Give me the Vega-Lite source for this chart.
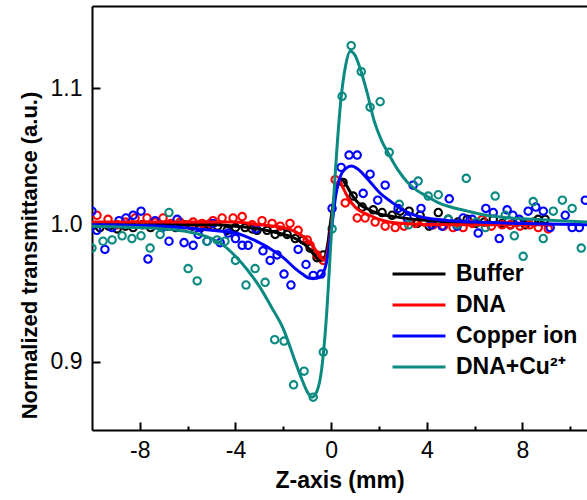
{
  "$schema": "https://vega.github.io/schema/vega-lite/v6.json",
  "width": 495,
  "height": 424,
  "autosize": "none",
  "padding": {"left": 92, "top": 6, "right": 0, "bottom": 70},
  "config": {
    "view": {"stroke": null},
    "font": "Liberation Sans",
    "axis": {"domainColor": "#000", "domainWidth": 2, "tickColor": "#000", "tickWidth": 2, "labelColor": "#000", "titleColor": "#000", "grid": false},
    "legend": {"orient": "none", "legendX": 299, "legendY": 256, "title": null, "symbolType": "stroke", "symbolSize": 2800, "symbolStrokeWidth": 3,
      "clipHeight": 24, "labelFontSize": 23, "labelFontWeight": "bold", "labelColor": "#000", "labelOffset": 9, "rowPadding": 7, "labelLimit": 300}
  },
  "datasets": {
    "pts": [
      {"s": "Buffer", "z": -10, "t": 0.999}, {"s": "Buffer", "z": -9.67, "t": 0.998}, {"s": "Buffer", "z": -9.3, "t": 0.999}, {"s": "Buffer", "z": -8.95, "t": 0.997}, {"s": "Buffer", "z": -8.6, "t": 0.999}, {"s": "Buffer", "z": -8.28, "t": 0.998}, {"s": "Buffer", "z": -7.9, "t": 1.0}, {"s": "Buffer", "z": -7.55, "t": 0.998}, {"s": "Buffer", "z": -7.2, "t": 1.0}, {"s": "Buffer", "z": -6.85, "t": 0.999}, {"s": "Buffer", "z": -6.5, "t": 0.998}, {"s": "Buffer", "z": -6.15, "t": 1.0}, {"s": "Buffer", "z": -5.8, "t": 0.999}, {"s": "Buffer", "z": -5.45, "t": 0.998}, {"s": "Buffer", "z": -5.1, "t": 1.0}, {"s": "Buffer", "z": -4.75, "t": 0.999}, {"s": "Buffer", "z": -4.35, "t": 0.996}, {"s": "Buffer", "z": -4.0, "t": 0.998}, {"s": "Buffer", "z": -3.6, "t": 0.998}, {"s": "Buffer", "z": -3.3, "t": 0.997}, {"s": "Buffer", "z": -3.1, "t": 0.996}, {"s": "Buffer", "z": -2.68, "t": 0.996}, {"s": "Buffer", "z": -2.34, "t": 0.993}, {"s": "Buffer", "z": -2.1, "t": 0.995}, {"s": "Buffer", "z": -1.84, "t": 0.993}, {"s": "Buffer", "z": -1.5, "t": 0.99}, {"s": "Buffer", "z": -1.17, "t": 0.989}, {"s": "Buffer", "z": -0.88, "t": 0.983}, {"s": "Buffer", "z": -0.59, "t": 0.976}, {"s": "Buffer", "z": -0.33, "t": 0.978}, {"s": "Buffer", "z": 0.5, "t": 1.031}, {"s": "Buffer", "z": 0.92, "t": 1.021}, {"s": "Buffer", "z": 1.3, "t": 1.013}, {"s": "Buffer", "z": 1.76, "t": 1.011}, {"s": "Buffer", "z": 2.13, "t": 1.009}, {"s": "Buffer", "z": 2.55, "t": 1.007}, {"s": "Buffer", "z": 2.89, "t": 1.01}, {"s": "Buffer", "z": 3.26, "t": 1.01}, {"s": "Buffer", "z": 3.6, "t": 1.001}, {"s": "Buffer", "z": 3.72, "t": 1.007}, {"s": "Buffer", "z": 4.1, "t": 0.999}, {"s": "Buffer", "z": 4.48, "t": 1.009}, {"s": "Buffer", "z": 4.9, "t": 1.004}, {"s": "Buffer", "z": 5.3, "t": 1.002}, {"s": "Buffer", "z": 5.69, "t": 1.004}, {"s": "Buffer", "z": 6.05, "t": 1.001}, {"s": "Buffer", "z": 6.4, "t": 1.002}, {"s": "Buffer", "z": 6.78, "t": 1.004}, {"s": "Buffer", "z": 7.15, "t": 1.001}, {"s": "Buffer", "z": 7.5, "t": 1.0}, {"s": "Buffer", "z": 7.8, "t": 1.002}, {"s": "Buffer", "z": 8.12, "t": 1.0}, {"s": "Buffer", "z": 8.5, "t": 1.002}, {"s": "Buffer", "z": 8.66, "t": 1.004}, {"s": "Buffer", "z": 8.95, "t": 1.004},
      {"s": "DNA", "z": -9.79, "t": 1.007}, {"s": "DNA", "z": -9.33, "t": 1.004}, {"s": "DNA", "z": -8.95, "t": 1.0}, {"s": "DNA", "z": -8.6, "t": 1.002}, {"s": "DNA", "z": -8.2, "t": 1.005}, {"s": "DNA", "z": -7.7, "t": 1.005}, {"s": "DNA", "z": -7.36, "t": 1.002}, {"s": "DNA", "z": -7.03, "t": 1.005}, {"s": "DNA", "z": -6.7, "t": 1.001}, {"s": "DNA", "z": -6.32, "t": 1.002}, {"s": "DNA", "z": -5.95, "t": 1.0}, {"s": "DNA", "z": -5.77, "t": 1.002}, {"s": "DNA", "z": -5.4, "t": 1.001}, {"s": "DNA", "z": -5.06, "t": 1.001}, {"s": "DNA", "z": -4.94, "t": 1.003}, {"s": "DNA", "z": -4.56, "t": 1.005}, {"s": "DNA", "z": -4.1, "t": 1.005}, {"s": "DNA", "z": -3.72, "t": 1.006}, {"s": "DNA", "z": -3.3, "t": 1.0}, {"s": "DNA", "z": -2.89, "t": 1.003}, {"s": "DNA", "z": -2.47, "t": 1.001}, {"s": "DNA", "z": -2.13, "t": 0.999}, {"s": "DNA", "z": -1.72, "t": 1.001}, {"s": "DNA", "z": -1.38, "t": 0.996}, {"s": "DNA", "z": -1.0, "t": 0.989}, {"s": "DNA", "z": -0.88, "t": 0.985}, {"s": "DNA", "z": -0.59, "t": 0.978}, {"s": "DNA", "z": -0.33, "t": 0.974}, {"s": "DNA", "z": 0.17, "t": 1.033}, {"s": "DNA", "z": 0.59, "t": 1.016}, {"s": "DNA", "z": 1.09, "t": 1.005}, {"s": "DNA", "z": 1.42, "t": 1.005}, {"s": "DNA", "z": 1.84, "t": 1.002}, {"s": "DNA", "z": 2.26, "t": 0.999}, {"s": "DNA", "z": 2.68, "t": 0.998}, {"s": "DNA", "z": 3.05, "t": 0.999}, {"s": "DNA", "z": 3.51, "t": 1.001}, {"s": "DNA", "z": 3.9, "t": 1.002}, {"s": "DNA", "z": 4.27, "t": 1.0}, {"s": "DNA", "z": 4.7, "t": 0.999}, {"s": "DNA", "z": 5.1, "t": 0.998}, {"s": "DNA", "z": 5.52, "t": 0.998}, {"s": "DNA", "z": 5.9, "t": 1.001}, {"s": "DNA", "z": 6.32, "t": 1.004}, {"s": "DNA", "z": 6.7, "t": 0.999}, {"s": "DNA", "z": 7.15, "t": 1.0}, {"s": "DNA", "z": 7.49, "t": 1.0}, {"s": "DNA", "z": 7.9, "t": 0.999}, {"s": "DNA", "z": 8.3, "t": 1.0}, {"s": "DNA", "z": 8.66, "t": 0.998}, {"s": "DNA", "z": 9.08, "t": 0.997},
      {"s": "Copper ion", "z": -10, "t": 1.01}, {"s": "Copper ion", "z": -9.8, "t": 0.996}, {"s": "Copper ion", "z": -9.46, "t": 0.982}, {"s": "Copper ion", "z": -9.16, "t": 0.998}, {"s": "Copper ion", "z": -8.87, "t": 1.003}, {"s": "Copper ion", "z": -8.58, "t": 1.005}, {"s": "Copper ion", "z": -8.28, "t": 1.007}, {"s": "Copper ion", "z": -7.95, "t": 1.01}, {"s": "Copper ion", "z": -7.66, "t": 0.975}, {"s": "Copper ion", "z": -7.36, "t": 1.003}, {"s": "Copper ion", "z": -7.07, "t": 0.998}, {"s": "Copper ion", "z": -6.78, "t": 0.988}, {"s": "Copper ion", "z": -6.44, "t": 1.004}, {"s": "Copper ion", "z": -6.15, "t": 0.987}, {"s": "Copper ion", "z": -5.77, "t": 0.985}, {"s": "Copper ion", "z": -5.56, "t": 0.993}, {"s": "Copper ion", "z": -5.19, "t": 0.988}, {"s": "Copper ion", "z": -4.94, "t": 1.001}, {"s": "Copper ion", "z": -4.64, "t": 0.987}, {"s": "Copper ion", "z": -4.3, "t": 0.994}, {"s": "Copper ion", "z": -4.0, "t": 0.99}, {"s": "Copper ion", "z": -3.72, "t": 0.985}, {"s": "Copper ion", "z": -3.47, "t": 0.985}, {"s": "Copper ion", "z": -3.14, "t": 0.997}, {"s": "Copper ion", "z": -2.85, "t": 0.981}, {"s": "Copper ion", "z": -2.55, "t": 0.974}, {"s": "Copper ion", "z": -2.26, "t": 0.978}, {"s": "Copper ion", "z": -1.97, "t": 0.964}, {"s": "Copper ion", "z": -1.68, "t": 0.956}, {"s": "Copper ion", "z": -1.38, "t": 0.982}, {"s": "Copper ion", "z": -1.05, "t": 0.971}, {"s": "Copper ion", "z": -0.75, "t": 0.963}, {"s": "Copper ion", "z": -0.42, "t": 0.964}, {"s": "Copper ion", "z": 0.04, "t": 1.012}, {"s": "Copper ion", "z": 0.42, "t": 1.042}, {"s": "Copper ion", "z": 0.75, "t": 1.051}, {"s": "Copper ion", "z": 1.09, "t": 1.051}, {"s": "Copper ion", "z": 1.34, "t": 1.023}, {"s": "Copper ion", "z": 1.63, "t": 1.037}, {"s": "Copper ion", "z": 1.95, "t": 1.018}, {"s": "Copper ion", "z": 2.26, "t": 1.029}, {"s": "Copper ion", "z": 2.8, "t": 1.012}, {"s": "Copper ion", "z": 3.18, "t": 1.005}, {"s": "Copper ion", "z": 3.43, "t": 1.029}, {"s": "Copper ion", "z": 3.76, "t": 1.012}, {"s": "Copper ion", "z": 4.2, "t": 1.0}, {"s": "Copper ion", "z": 4.64, "t": 0.999}, {"s": "Copper ion", "z": 4.94, "t": 1.019}, {"s": "Copper ion", "z": 5.27, "t": 0.999}, {"s": "Copper ion", "z": 5.52, "t": 1.005}, {"s": "Copper ion", "z": 5.9, "t": 1.004}, {"s": "Copper ion", "z": 6.15, "t": 0.994}, {"s": "Copper ion", "z": 6.47, "t": 1.012}, {"s": "Copper ion", "z": 6.78, "t": 1.009}, {"s": "Copper ion", "z": 7.03, "t": 0.99}, {"s": "Copper ion", "z": 7.36, "t": 1.011}, {"s": "Copper ion", "z": 7.6, "t": 1.007}, {"s": "Copper ion", "z": 7.87, "t": 1.004}, {"s": "Copper ion", "z": 8.24, "t": 1.01}, {"s": "Copper ion", "z": 8.56, "t": 1.013}, {"s": "Copper ion", "z": 8.87, "t": 1.01}, {"s": "Copper ion", "z": 9.16, "t": 0.998}, {"s": "Copper ion", "z": 9.79, "t": 1.007}, {"s": "Copper ion", "z": 10.08, "t": 0.998}, {"s": "Copper ion", "z": 10.38, "t": 0.998}, {"s": "Copper ion", "z": 10.63, "t": 1.018},
      {"s": "DNA+Cu²⁺", "z": -10, "t": 0.983}, {"s": "DNA+Cu²⁺", "z": -9.54, "t": 0.988}, {"s": "DNA+Cu²⁺", "z": -9.16, "t": 0.989}, {"s": "DNA+Cu²⁺", "z": -8.74, "t": 0.992}, {"s": "DNA+Cu²⁺", "z": -8.33, "t": 0.99}, {"s": "DNA+Cu²⁺", "z": -7.95, "t": 0.992}, {"s": "DNA+Cu²⁺", "z": -7.57, "t": 0.983}, {"s": "DNA+Cu²⁺", "z": -7.15, "t": 0.993}, {"s": "DNA+Cu²⁺", "z": -6.78, "t": 1.009}, {"s": "DNA+Cu²⁺", "z": -6.4, "t": 1.0}, {"s": "DNA+Cu²⁺", "z": -5.98, "t": 0.968}, {"s": "DNA+Cu²⁺", "z": -5.6, "t": 0.959}, {"s": "DNA+Cu²⁺", "z": -5.19, "t": 0.988}, {"s": "DNA+Cu²⁺", "z": -4.77, "t": 0.989}, {"s": "DNA+Cu²⁺", "z": -4.44, "t": 0.988}, {"s": "DNA+Cu²⁺", "z": -4.0, "t": 0.974}, {"s": "DNA+Cu²⁺", "z": -3.56, "t": 0.956}, {"s": "DNA+Cu²⁺", "z": -3.18, "t": 0.968}, {"s": "DNA+Cu²⁺", "z": -2.76, "t": 0.958}, {"s": "DNA+Cu²⁺", "z": -2.36, "t": 0.916}, {"s": "DNA+Cu²⁺", "z": -1.97, "t": 0.915}, {"s": "DNA+Cu²⁺", "z": -1.57, "t": 0.883}, {"s": "DNA+Cu²⁺", "z": -1.13, "t": 0.893}, {"s": "DNA+Cu²⁺", "z": -0.75, "t": 0.874}, {"s": "DNA+Cu²⁺", "z": -0.33, "t": 0.907}, {"s": "DNA+Cu²⁺", "z": 0.04, "t": 0.997}, {"s": "DNA+Cu²⁺", "z": 0.46, "t": 1.094}, {"s": "DNA+Cu²⁺", "z": 0.84, "t": 1.131}, {"s": "DNA+Cu²⁺", "z": 1.26, "t": 1.112}, {"s": "DNA+Cu²⁺", "z": 1.63, "t": 1.086}, {"s": "DNA+Cu²⁺", "z": 2.05, "t": 1.09}, {"s": "DNA+Cu²⁺", "z": 2.43, "t": 1.053}, {"s": "DNA+Cu²⁺", "z": 2.85, "t": 1.015}, {"s": "DNA+Cu²⁺", "z": 3.24, "t": 1.0}, {"s": "DNA+Cu²⁺", "z": 3.64, "t": 1.032}, {"s": "DNA+Cu²⁺", "z": 4.06, "t": 1.021}, {"s": "DNA+Cu²⁺", "z": 4.48, "t": 1.022}, {"s": "DNA+Cu²⁺", "z": 4.9, "t": 1.004}, {"s": "DNA+Cu²⁺", "z": 5.27, "t": 1.0}, {"s": "DNA+Cu²⁺", "z": 5.65, "t": 1.034}, {"s": "DNA+Cu²⁺", "z": 6.07, "t": 1.002}, {"s": "DNA+Cu²⁺", "z": 6.45, "t": 0.998}, {"s": "DNA+Cu²⁺", "z": 6.86, "t": 1.021}, {"s": "DNA+Cu²⁺", "z": 7.28, "t": 1.007}, {"s": "DNA+Cu²⁺", "z": 7.66, "t": 0.992}, {"s": "DNA+Cu²⁺", "z": 8.03, "t": 0.977}, {"s": "DNA+Cu²⁺", "z": 8.45, "t": 1.017}, {"s": "DNA+Cu²⁺", "z": 8.87, "t": 0.99}, {"s": "DNA+Cu²⁺", "z": 9.29, "t": 1.01}, {"s": "DNA+Cu²⁺", "z": 9.67, "t": 1.018}, {"s": "DNA+Cu²⁺", "z": 10.08, "t": 1.012}, {"s": "DNA+Cu²⁺", "z": 10.46, "t": 0.983}
    ],
    "fit": [
      {"s": "Buffer", "z": -10, "t": 1.0}, {"s": "Buffer", "z": -5, "t": 1.0}, {"s": "Buffer", "z": -4, "t": 0.999}, {"s": "Buffer", "z": -3, "t": 0.997}, {"s": "Buffer", "z": -2.2, "t": 0.994}, {"s": "Buffer", "z": -1.5, "t": 0.99}, {"s": "Buffer", "z": -1.0, "t": 0.984}, {"s": "Buffer", "z": -0.7, "t": 0.978}, {"s": "Buffer", "z": -0.45, "t": 0.974}, {"s": "Buffer", "z": -0.3, "t": 0.975}, {"s": "Buffer", "z": -0.15, "t": 0.985}, {"s": "Buffer", "z": 0, "t": 1.005}, {"s": "Buffer", "z": 0.15, "t": 1.022}, {"s": "Buffer", "z": 0.3, "t": 1.03}, {"s": "Buffer", "z": 0.45, "t": 1.033}, {"s": "Buffer", "z": 0.6, "t": 1.03}, {"s": "Buffer", "z": 0.9, "t": 1.021}, {"s": "Buffer", "z": 1.2, "t": 1.015}, {"s": "Buffer", "z": 1.6, "t": 1.011}, {"s": "Buffer", "z": 2.0, "t": 1.008}, {"s": "Buffer", "z": 2.6, "t": 1.006}, {"s": "Buffer", "z": 3.5, "t": 1.004}, {"s": "Buffer", "z": 5, "t": 1.002}, {"s": "Buffer", "z": 7, "t": 1.001}, {"s": "Buffer", "z": 9, "t": 1.0},
      {"s": "DNA", "z": -10, "t": 1.002}, {"s": "DNA", "z": -6, "t": 1.002}, {"s": "DNA", "z": -4, "t": 1.002}, {"s": "DNA", "z": -3, "t": 1.0}, {"s": "DNA", "z": -2, "t": 0.998}, {"s": "DNA", "z": -1.5, "t": 0.995}, {"s": "DNA", "z": -1.0, "t": 0.989}, {"s": "DNA", "z": -0.7, "t": 0.983}, {"s": "DNA", "z": -0.45, "t": 0.976}, {"s": "DNA", "z": -0.3, "t": 0.974}, {"s": "DNA", "z": -0.15, "t": 0.98}, {"s": "DNA", "z": 0, "t": 0.998}, {"s": "DNA", "z": 0.1, "t": 1.015}, {"s": "DNA", "z": 0.25, "t": 1.03}, {"s": "DNA", "z": 0.35, "t": 1.032}, {"s": "DNA", "z": 0.5, "t": 1.027}, {"s": "DNA", "z": 0.7, "t": 1.02}, {"s": "DNA", "z": 1.0, "t": 1.013}, {"s": "DNA", "z": 1.6, "t": 1.007}, {"s": "DNA", "z": 2.2, "t": 1.003}, {"s": "DNA", "z": 3, "t": 1.001}, {"s": "DNA", "z": 5, "t": 1.0}, {"s": "DNA", "z": 9.1, "t": 1.0},
      {"s": "Copper ion", "z": -10, "t": 1.0}, {"s": "Copper ion", "z": -7, "t": 0.999}, {"s": "Copper ion", "z": -5, "t": 0.996}, {"s": "Copper ion", "z": -4, "t": 0.994}, {"s": "Copper ion", "z": -3.5, "t": 0.991}, {"s": "Copper ion", "z": -3, "t": 0.987}, {"s": "Copper ion", "z": -2.5, "t": 0.982}, {"s": "Copper ion", "z": -2, "t": 0.976}, {"s": "Copper ion", "z": -1.5, "t": 0.968}, {"s": "Copper ion", "z": -1.2, "t": 0.964}, {"s": "Copper ion", "z": -0.9, "t": 0.961}, {"s": "Copper ion", "z": -0.6, "t": 0.961}, {"s": "Copper ion", "z": -0.4, "t": 0.963}, {"s": "Copper ion", "z": -0.2, "t": 0.972}, {"s": "Copper ion", "z": 0, "t": 0.995}, {"s": "Copper ion", "z": 0.2, "t": 1.022}, {"s": "Copper ion", "z": 0.4, "t": 1.036}, {"s": "Copper ion", "z": 0.6, "t": 1.041}, {"s": "Copper ion", "z": 0.85, "t": 1.043}, {"s": "Copper ion", "z": 1.1, "t": 1.041}, {"s": "Copper ion", "z": 1.4, "t": 1.036}, {"s": "Copper ion", "z": 1.7, "t": 1.03}, {"s": "Copper ion", "z": 2.0, "t": 1.024}, {"s": "Copper ion", "z": 2.5, "t": 1.017}, {"s": "Copper ion", "z": 3.0, "t": 1.011}, {"s": "Copper ion", "z": 3.5, "t": 1.007}, {"s": "Copper ion", "z": 4.0, "t": 1.005}, {"s": "Copper ion", "z": 5.0, "t": 1.003}, {"s": "Copper ion", "z": 6.0, "t": 1.002}, {"s": "Copper ion", "z": 8, "t": 1.001}, {"s": "Copper ion", "z": 10.7, "t": 1.0},
      {"s": "DNA+Cu²⁺", "z": -10, "t": 0.999}, {"s": "DNA+Cu²⁺", "z": -8, "t": 0.998}, {"s": "DNA+Cu²⁺", "z": -7, "t": 0.997}, {"s": "DNA+Cu²⁺", "z": -6, "t": 0.995}, {"s": "DNA+Cu²⁺", "z": -5, "t": 0.99}, {"s": "DNA+Cu²⁺", "z": -4.5, "t": 0.985}, {"s": "DNA+Cu²⁺", "z": -4, "t": 0.977}, {"s": "DNA+Cu²⁺", "z": -3.5, "t": 0.967}, {"s": "DNA+Cu²⁺", "z": -3, "t": 0.955}, {"s": "DNA+Cu²⁺", "z": -2.5, "t": 0.94}, {"s": "DNA+Cu²⁺", "z": -2, "t": 0.924}, {"s": "DNA+Cu²⁺", "z": -1.5, "t": 0.9}, {"s": "DNA+Cu²⁺", "z": -1.2, "t": 0.886}, {"s": "DNA+Cu²⁺", "z": -1.0, "t": 0.878}, {"s": "DNA+Cu²⁺", "z": -0.8, "t": 0.874}, {"s": "DNA+Cu²⁺", "z": -0.6, "t": 0.878}, {"s": "DNA+Cu²⁺", "z": -0.4, "t": 0.894}, {"s": "DNA+Cu²⁺", "z": -0.2, "t": 0.932}, {"s": "DNA+Cu²⁺", "z": 0, "t": 0.99}, {"s": "DNA+Cu²⁺", "z": 0.2, "t": 1.045}, {"s": "DNA+Cu²⁺", "z": 0.4, "t": 1.09}, {"s": "DNA+Cu²⁺", "z": 0.6, "t": 1.116}, {"s": "DNA+Cu²⁺", "z": 0.8, "t": 1.127}, {"s": "DNA+Cu²⁺", "z": 1.0, "t": 1.124}, {"s": "DNA+Cu²⁺", "z": 1.2, "t": 1.115}, {"s": "DNA+Cu²⁺", "z": 1.5, "t": 1.097}, {"s": "DNA+Cu²⁺", "z": 1.8, "t": 1.076}, {"s": "DNA+Cu²⁺", "z": 2.1, "t": 1.062}, {"s": "DNA+Cu²⁺", "z": 2.4, "t": 1.052}, {"s": "DNA+Cu²⁺", "z": 2.8, "t": 1.04}, {"s": "DNA+Cu²⁺", "z": 3.2, "t": 1.031}, {"s": "DNA+Cu²⁺", "z": 3.6, "t": 1.025}, {"s": "DNA+Cu²⁺", "z": 4.0, "t": 1.021}, {"s": "DNA+Cu²⁺", "z": 4.5, "t": 1.016}, {"s": "DNA+Cu²⁺", "z": 5.0, "t": 1.013}, {"s": "DNA+Cu²⁺", "z": 5.7, "t": 1.01}, {"s": "DNA+Cu²⁺", "z": 6.5, "t": 1.007}, {"s": "DNA+Cu²⁺", "z": 7.5, "t": 1.005}, {"s": "DNA+Cu²⁺", "z": 8.5, "t": 1.004}, {"s": "DNA+Cu²⁺", "z": 9.5, "t": 1.003}, {"s": "DNA+Cu²⁺", "z": 10.7, "t": 1.002}
    ]
  },
  "resolve": {"axis": {"x": "independent", "y": "independent"}},
  "layer": [
    {
      "data": {"name": "pts"},
      "mark": {"type": "point", "shape": "circle", "filled": false, "opacity": 1, "size": 55, "strokeWidth": 2.1, "clip": true},
      "encoding": {
        "x": {"field": "z", "type": "quantitative", "scale": {"domain": [-10, 10.7], "nice": false, "zero": false},
          "axis": {"orient": "bottom", "values": [-8, -4, 0, 4, 8], "labelExpr": "'' + datum.value", "ticks": false,
            "labelFontSize": 23, "labelPadding": 9, "title": "Z-axis (mm)", "titleFontSize": 23, "titleFontWeight": "bold", "titlePadding": 7}},
        "y": {"field": "t", "type": "quantitative", "scale": {"domain": [0.85, 1.16], "nice": false, "zero": false},
          "axis": {"orient": "left", "values": [0.9, 1.0, 1.1], "format": ".1f", "ticks": false, "labelFontSize": 23, "labelPadding": 10,
            "title": "Normalized transmittance (a.u.)", "titleFontSize": 22, "titleFontWeight": "bold", "titlePadding": 9, "titleY": 249}},
        "color": {"field": "s", "type": "nominal",
          "scale": {"domain": ["Buffer", "DNA", "Copper ion", "DNA+Cu²⁺"], "range": ["#000000", "#ff0000", "#0000ff", "#0a8a80"]}}
      }
    },
    {
      "data": {"name": "fit"},
      "mark": {"type": "line", "strokeWidth": 3, "interpolate": "monotone", "clip": true},
      "encoding": {
        "x": {"field": "z", "type": "quantitative", "axis": {"orient": "top", "labels": false, "ticks": false, "title": null, "domainWidth": 2}},
        "y": {"field": "t", "type": "quantitative", "axis": null},
        "color": {"field": "s", "type": "nominal"}
      }
    },
    {
      "data": {"name": "fit"},
      "mark": {"type": "point", "opacity": 0},
      "encoding": {
        "x": {"field": "z", "type": "quantitative", "axis": {"orient": "bottom", "values": [-8, -4, 0, 4, 8], "offset": -8, "tickSize": 8, "labels": false, "domain": false, "title": null}},
        "y": {"field": "t", "type": "quantitative", "axis": {"orient": "left", "values": [0.9, 1.0, 1.1], "offset": -8, "tickSize": 8, "labels": false, "domain": false, "title": null}}
      }
    },
    {
      "data": {"name": "fit"},
      "mark": {"type": "point", "opacity": 0},
      "encoding": {
        "x": {"field": "z", "type": "quantitative", "axis": {"orient": "bottom", "values": [-6, -2, 2, 6, 10], "offset": -4, "tickSize": 4, "labels": false, "domain": false, "title": null}},
        "y": {"field": "t", "type": "quantitative", "axis": null}
      }
    }
  ]
}
